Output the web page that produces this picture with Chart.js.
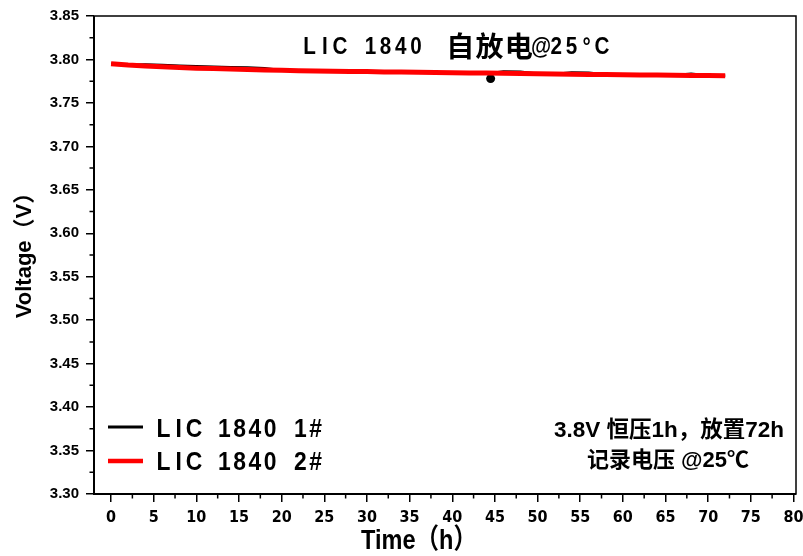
<!DOCTYPE html>
<html><head><meta charset="utf-8">
<script src="https://cdn.jsdelivr.net/npm/chart.js@4/dist/chart.umd.min.js"></script>
<style>html,body{margin:0;padding:0;background:#fff;}canvas{display:block;}</style>
</head><body>
<canvas id="c" width="803" height="556"></canvas>
<script>
// ---- data ----
const titleText = "LIC 1840 自放电@25°C";
const seriesNames = ["LIC 1840 1#", "LIC 1840 2#"];
const noteLines = ["3.8V 恒压1h，放置72h", "记录电压 @25℃"];
const xAxisTitle = "Time（h）";
const yAxisTitle = "Voltage（V）";
const xTickValues = [0,5,10,15,20,25,30,35,40,45,50,55,60,65,70,75,80];
const yTickValues = [3.30,3.35,3.40,3.45,3.50,3.55,3.60,3.65,3.70,3.75,3.80,3.85];

const timeRed = [0,2,4,6,8,10,12,14,16,18,20,22,24,26,28,30,32,34,36,38,40,42,44,46,48,50,52,54,56,58,60,62,64,66,68,70,72];
const voltRed = [3.7950,3.7935,3.7925,3.7915,3.7908,3.7900,3.7895,3.7890,3.7885,3.7880,3.7875,3.7870,3.7868,3.7865,3.7862,3.7860,3.7857,3.7855,3.7852,3.7850,3.7847,3.7845,3.7843,3.7840,3.7838,3.7835,3.7832,3.7830,3.7828,3.7826,3.7824,3.7822,3.7820,3.7818,3.7816,3.7814,3.7812];

const timeBlack = [0,2,4,6,8,10,12,14,16,18,20,22,24,26,28,30,32,34,36,38,40,42,44,44.45,44.5,44.55,46,48,50,52,54,56,58,60,62,64,66,68,70,72];
const voltBlack = [3.7952,3.7937,3.7942,3.7935,3.7928,3.7921,3.7916,3.7911,3.7906,3.7900,3.7876,3.7871,3.7869,3.7866,3.7863,3.7861,3.7858,3.7856,3.7853,3.7851,3.7848,3.7846,3.7844,3.7843,3.7780,3.7842,3.7860,3.7858,3.7836,3.7833,3.7850,3.7848,3.7827,3.7825,3.7823,3.7821,3.7819,3.7836,3.7815,3.7813];
const blackDotIndex = 24;

const toXY = (xs, ys) => xs.map((x, i) => ({x: x, y: ys[i]}));

const SANS = "'Liberation Sans',Arial,'Noto Sans CJK SC',sans-serif";
const CJK = "'Noto Sans CJK SC','Liberation Sans',sans-serif";

function isCJK(ch) { return !!ch && ch.codePointAt(0) >= 0x2E80; }

// draws text in fixed cells (half-width latin, full-width CJK), like a SimHei-style font
function drawCells(ctx, text, x0, baseline, opt) {
  const chars = Array.from(text);
  let x = x0;
  chars.forEach((ch, i) => {
    const cjk = isCJK(ch);
    let w = cjk ? opt.cjkCell : opt.latinCell;
    if (ch === ' ' && isCJK(chars[i + 1]) && opt.spaceBeforeCJK) w = opt.spaceBeforeCJK;
    if (ch !== ' ') {
      ctx.save();
      if (cjk) {
        ctx.font = opt.cjkFont;
        ctx.textAlign = 'center';
        ctx.textBaseline = 'middle';
        ctx.fillText(ch, x + w / 2, opt.cjkMiddle);
      } else {
        ctx.font = opt.latinFont;
        ctx.textAlign = 'center';
        ctx.textBaseline = 'alphabetic';
        ctx.translate(x + w / 2, baseline);
        ctx.scale(opt.scaleX, 1);
        ctx.fillText(ch, 0, 0);
      }
      ctx.restore();
    }
    x += w;
  });
}

const decorPlugin = {
  id: 'decor',
  afterDraw(chart) {
    const ctx = chart.ctx;
    const a = chart.chartArea;
    const xs = chart.scales.x, ys = chart.scales.y;
    ctx.save();
    // minor ticks
    ctx.strokeStyle = '#000';
    ctx.lineWidth = 1.5;
    ctx.beginPath();
    for (let v = 2.5; v < 80; v += 5) {
      const px = xs.getPixelForValue(v);
      ctx.moveTo(px, a.bottom); ctx.lineTo(px, a.bottom + 4.5);
    }
    for (let v = 3.325; v < 3.85; v += 0.05) {
      const py = ys.getPixelForValue(v);
      ctx.moveTo(a.left, py); ctx.lineTo(a.left - 4.5, py);
    }
    ctx.stroke();
    // box
    ctx.lineWidth = 1.5;
    ctx.strokeRect(a.left, a.top, a.right - a.left, a.bottom - a.top);
    ctx.lineWidth = 2;
    ctx.beginPath();
    ctx.moveTo(a.left, a.top); ctx.lineTo(a.left, a.bottom); ctx.lineTo(a.right, a.bottom);
    ctx.stroke();

    ctx.fillStyle = '#000';
    // title
    drawCells(ctx, titleText, 302, 54, {
      latinFont: "bold 24px " + SANS, cjkFont: "bold 28px " + CJK,
      latinCell: 15.2, spaceBeforeCJK: 22, cjkCell: 29.3, scaleX: 0.86, cjkMiddle: 46
    });

    // legend
    const legColors = ['#000000', '#ff0000'];
    const legY = [427, 461];
    const legBase = [437, 470];
    for (let i = 0; i < 2; i++) {
      ctx.strokeStyle = legColors[i];
      ctx.lineWidth = i === 0 ? 3 : 4.5;
      ctx.beginPath();
      ctx.moveTo(108, legY[i]); ctx.lineTo(143, legY[i]);
      ctx.stroke();
      drawCells(ctx, seriesNames[i], 156, legBase[i], {
        latinFont: "bold 26px " + SANS, cjkFont: "bold 25px " + CJK,
        latinCell: 15.2, cjkCell: 30, scaleX: 0.88, cjkMiddle: legY[i]
      });
    }

    // note
    ctx.textAlign = 'center';
    ctx.textBaseline = 'middle';
    ctx.font = "bold 22.5px " + SANS;
    ctx.fillText(noteLines[0], 669, 431);
    ctx.font = "bold 22px " + SANS;
    ctx.fillText(noteLines[1], 668, 461);

    // axis titles
    ctx.save();
    ctx.translate(419, 541);
    ctx.scale(0.84, 1);
    ctx.font = "bold 28px " + SANS;
    ctx.fillText(xAxisTitle, 0, 0);
    ctx.restore();

    ctx.save();
    ctx.translate(25, 250);
    ctx.rotate(-Math.PI / 2);
    ctx.font = "bold 22px " + SANS;
    ctx.fillText(yAxisTitle, 0, 0);
    ctx.restore();

    ctx.restore();
  }
};

new Chart(document.getElementById('c'), {
  type: 'line',
  data: {
    datasets: [
      { label: seriesNames[1], data: toXY(timeRed, voltRed), borderColor: '#ff0000', backgroundColor: '#ff0000',
        borderWidth: 5, pointRadius: 0, tension: 0, order: 1 },
      { label: seriesNames[0], data: toXY(timeBlack, voltBlack), borderColor: '#000000', backgroundColor: '#000000',
        borderWidth: 2.5, tension: 0, order: 2,
        pointRadius: timeBlack.map((t, i) => i === blackDotIndex ? 4.5 : 0), pointBorderWidth: 0 }
    ]
  },
  options: {
    responsive: false,
    animation: false,
    devicePixelRatio: 1,
    layout: { padding: { left: 0, right: 7, top: 16, bottom: 0 } },
    plugins: { legend: { display: false }, tooltip: { enabled: false }, title: { display: false } },
    scales: {
      x: {
        type: 'linear', min: -2, max: 80.3,
        afterBuildTicks: (s) => { s.ticks = xTickValues.map(v => ({ value: v })); },
        grid: { drawOnChartArea: false, drawTicks: true, tickLength: 8, color: '#000', lineWidth: 1.5 },
        border: { display: false },
        ticks: { color: '#000', font: { family: "'DejaVu Sans Condensed'," + SANS, size: 16, weight: 'bold' }, maxRotation: 0, padding: 6, autoSkip: false },
        afterFit: (s) => { s.height = 62; s.paddingLeft = 0; s.paddingRight = 0; }
      },
      y: {
        type: 'linear', min: 3.30, max: 3.85,
        afterBuildTicks: (s) => { s.ticks = yTickValues.map(v => ({ value: v })); },
        grid: { drawOnChartArea: false, drawTicks: true, tickLength: 8, color: '#000', lineWidth: 1.5 },
        border: { display: false },
        ticks: { color: '#000', font: { family: SANS, size: 15, weight: 'bold' }, padding: 7, callback: (v) => Number(v).toFixed(2) },
        afterFit: (s) => { s.width = 94; }
      }
    }
  },
  plugins: [decorPlugin]
});
</script>
</body></html>
